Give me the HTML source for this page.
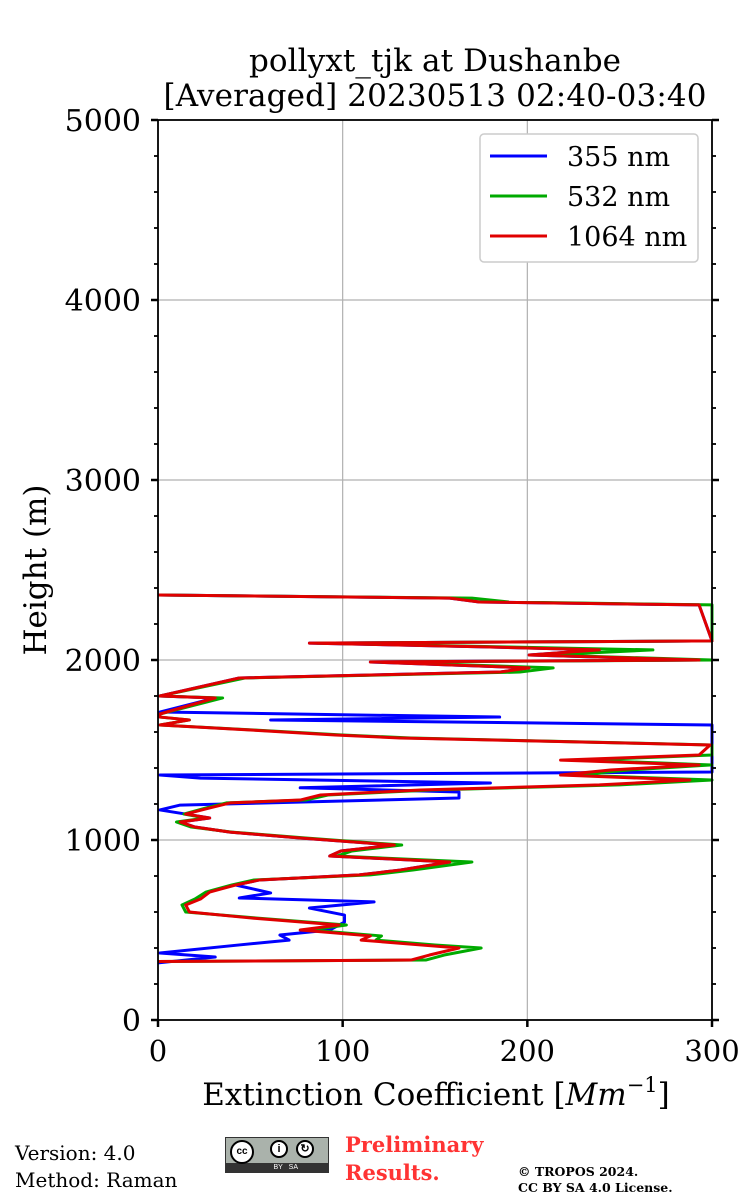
<!DOCTYPE html>
<html><head><meta charset="utf-8"><style>
body{margin:0;background:#fff;width:750px;height:1200px;overflow:hidden;position:relative;font-family:"DejaVu Serif","Liberation Serif",serif;}
.ft{position:absolute;font-family:"DejaVu Serif","Liberation Serif",serif;}
</style></head><body>
<svg id="chart" width="750" height="1120" style="position:absolute;left:0;top:0" font-family="DejaVu Serif, Liberation Serif, serif">
<text x="435" y="71" font-size="31" text-anchor="middle" textLength="372">pollyxt_tjk at Dushanbe</text>
<text x="435" y="106" font-size="31" text-anchor="middle" textLength="543">[Averaged] 20230513 02:40-03:40</text>
<g id="grid"></g><g id="series"></g><g id="axes"></g>
<text transform="translate(46,570) rotate(-90)" font-size="31" text-anchor="middle">Height (m)</text>
<text x="436" y="1105" font-size="31" text-anchor="middle">Extinction Coefficient [<tspan font-style="italic">Mm</tspan><tspan font-size="21" dy="-13"><tspan font-style="normal">−1</tspan></tspan><tspan dy="13">]</tspan></text>
<g>
<rect x="480" y="134" width="218" height="128" rx="4" fill="#fff" stroke="#ccc" stroke-width="1.5"/>
<line x1="490" y1="156" x2="547" y2="156" stroke="#0000ff" stroke-width="3"/><text x="567" y="166" font-size="27">355 nm</text>
<line x1="490" y1="196" x2="547" y2="196" stroke="#00aa00" stroke-width="3"/><text x="567" y="206" font-size="27">532 nm</text>
<line x1="490" y1="236" x2="547" y2="236" stroke="#e00000" stroke-width="3"/><text x="567" y="246" font-size="27">1064 nm</text>
</g>
</svg>
<div class="ft" style="left:15px;top:1140px;font-size:20px;line-height:27px">Version: 4.0<br>Method: Raman</div>
<div style="position:absolute;left:225px;top:1137px;width:104px;height:36px;background:#aab2ab;border:1px solid #333;box-sizing:border-box">
<div style="position:absolute;left:0;bottom:0;width:102px;height:9px;background:#333;color:#fff;font:7px 'Liberation Sans',sans-serif;text-align:center;line-height:9px">&nbsp;&nbsp;&nbsp;&nbsp;&nbsp;&nbsp;&nbsp;&nbsp;&nbsp;BY&nbsp;&nbsp;&nbsp;SA</div>
<div style="position:absolute;left:4px;top:2px;width:24px;height:24px;border-radius:50%;background:#fff;border:2px solid #000;box-sizing:border-box;font:bold 10px 'Liberation Sans',sans-serif;text-align:center;line-height:20px">cc</div>
<div style="position:absolute;left:44px;top:2px;width:18px;height:18px;border-radius:50%;background:#fff;border:2px solid #000;box-sizing:border-box;font:bold 11px 'Liberation Sans';text-align:center;line-height:14px">i</div>
<div style="position:absolute;left:70px;top:2px;width:18px;height:18px;border-radius:50%;background:#fff;border:2px solid #000;box-sizing:border-box;font:bold 11px 'Liberation Sans';text-align:center;line-height:14px">↻</div>
</div>
<div class="ft" style="left:345px;top:1131px;font-size:21px;line-height:28px;font-weight:bold;color:#ff3333">Preliminary<br>Results.</div>
<div class="ft" style="left:518px;top:1164px;font-size:12.5px;line-height:16px;font-weight:bold">© TROPOS 2024.<br>CC BY SA 4.0 License.</div>
<script>
const xTicks=[0,100,200,300];
const yTicks=[0,1000,2000,3000,4000,5000];
const h1064=[325,333,361,400,417,444,467,500,528,567,600,639,672,711,750,778,806,833,878,911,939,972,1011,1044,1072,1100,1122,1144,1178,1206,1222,1250,1278,1306,1333,1361,1389,1417,1444,1472,1528,1567,1583,1611,1639,1667,1683,1700,1789,1800,1900,1933,1956,1989,2000,2028,2056,2072,2094,2106,2306,2322,2344,2361];
const v1064=[0,137,147,163,142,110,115,77,98,50,17,15,23,28,42,55,109,131,158,93,99,128,77,39,20,12,28,15,28,39,77,88,142,239,288,218,245,293,218,293,299,131,96,50,1,17,1,1,31,1,44,185,201,115,293,201,239,180,82,300,293,174,158,0];
const v532=[0,145,155,175,150,118,121,82,102,53,15,13,20,26,40,52,115,138,170,97,105,132,80,40,18,10,26,14,26,37,80,92,148,250,300,225,255,300,230,300,300,137,100,52,1,17,1,1,35,1,47,196,214,120,300,210,268,190,86,300,300,190,170,0];
const h355=[317,350,372,417,444,472,500,544,583,622,656,678,706,750,778,806,833,878,911,939,972,1011,1044,1072,1100,1122,1144,1167,1194,1233,1267,1290,1317,1344,1361,1378,1528,1556,1639,1667,1683,1711,1789,1800,1900,1933,1956,1989,2000,2028,2056,2072,2094,2106,2306,2322,2344,2361];
const v355=[0,31,1,44,71,66,93,101,101,82,117,44,61,42,55,109,131,158,93,99,128,77,39,20,12,28,15,1,12,163,163,77,180,23,1,300,300,300,300,61,185,1,31,1,44,185,201,115,293,201,239,180,82,300,293,174,158,0];
const X0=158,X1=712,Y0=1020,Y1=120;
const sx=v=>X0+(v/300)*(X1-X0), sy=h=>Y0-(h/5000)*(Y0-Y1);
const NS="http://www.w3.org/2000/svg";
function mk(tag,attrs,parent){const e=document.createElementNS(NS,tag);for(const k in attrs)e.setAttribute(k,attrs[k]);parent.appendChild(e);return e;}
const grid=document.getElementById('grid'),axes=document.getElementById('axes'),ser=document.getElementById('series');
xTicks.forEach(t=>{const g=mk('line',{x1:sx(t),x2:sx(t),y1:Y1,y2:Y0,stroke:'#b0b0b0','stroke-width':1.2},grid);


const tk=mk('line',{x1:sx(t),x2:sx(t),y1:Y0,y2:Y0+7,stroke:'#000','stroke-width':2.5},axes);


const l=mk('text',{x:sx(t),y:1061,'font-size':29,'text-anchor':'middle'},axes);l.textContent=t;

});
yTicks.forEach(t=>{if(t>0&&t<5000){const g=mk('line',{x1:X0,x2:X1,y1:sy(t),y2:sy(t),stroke:'#b0b0b0','stroke-width':1.2},grid);

}
const l=mk('text',{x:141,y:sy(t)+11,'font-size':30,'text-anchor':'end'},axes);l.textContent=t;

});
for(let h=0;h<=5000;h+=200){const maj=h%1000===0,len=maj?7:4,w=maj?2.5:1.8;
mk('line',{x1:X0-len,x2:X0,y1:sy(h),y2:sy(h),stroke:'#000','stroke-width':w},axes);
mk('line',{x1:X1,x2:X1+len,y1:sy(h),y2:sy(h),stroke:'#000','stroke-width':w},axes);}
const fr=mk('rect',{x:X0,y:Y1,width:X1-X0,height:Y0-Y1,fill:'none',stroke:'#000','stroke-width':1.8},axes);


function line(hs,vs,color,name){const p=mk('polyline',{points:hs.map((h,i)=>sx(Math.min(vs[i],300))+','+sy(h)).join(' '),fill:'none',stroke:color,'stroke-width':3,'stroke-linejoin':'round'},ser);

}
line(h355,v355,'#0000ff','series-355nm');
line(h1064,v532,'#00aa00','series-532nm');
line(h1064,v1064,'#e00000','series-1064nm');
</script>
</body></html>
